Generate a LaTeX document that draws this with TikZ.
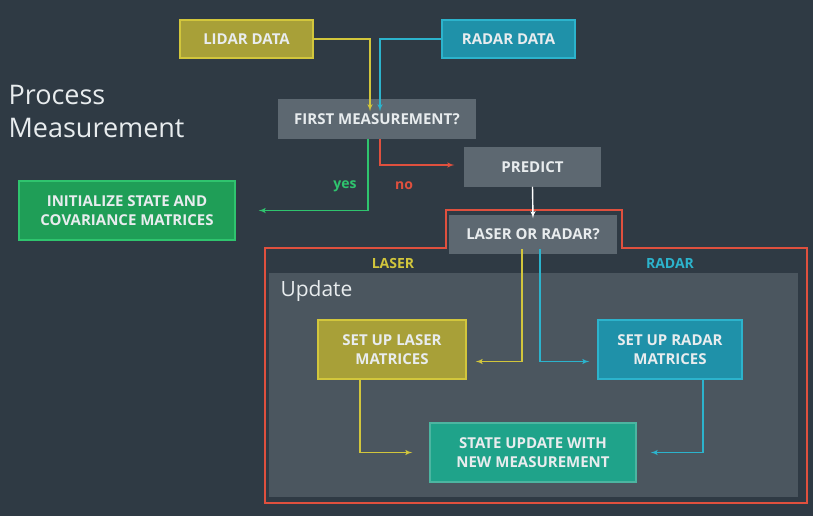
\documentclass[tikz,border=0pt]{standalone}
\usepackage{fontspec}
\setmainfont{Open Sans}
\usetikzlibrary{arrows}
\definecolor{bg}{HTML}{2F3A44}
\definecolor{panel}{HTML}{4B565F}
\definecolor{grey}{HTML}{5D6871}
\definecolor{ylw}{HTML}{A8A038}
\definecolor{ylwline}{HTML}{D2C63C}
\definecolor{teal}{HTML}{1F91A9}
\definecolor{tealline}{HTML}{2CB3CC}
\definecolor{grn}{HTML}{1F9E57}
\definecolor{grnline}{HTML}{2FC46E}
\definecolor{sea}{HTML}{1FA38A}
\definecolor{redline}{HTML}{E0503E}
\definecolor{txt}{HTML}{E8ECEE}
\tikzset{
  box/.style={draw, line width=1.5pt, text=txt, font=\fontsize{15}{19}\selectfont\bfseries,
    align=center, inner sep=0pt},
  con/.style={line width=1.4pt, -latex'},
}
\begin{document}
\begin{tikzpicture}[x=1pt,y=-1pt]
  \fill[bg] (0,0) rectangle (813,516);
  \useasboundingbox (0,0) rectangle (813,516);
  % red frame and update panel
  \draw[redline, line width=2pt] (446,210) -- (622,210) -- (622,248) -- (807,248)
    -- (807,503) -- (265,503) -- (265,248) -- (446,248) -- cycle;
  \fill[panel] (269,273) rectangle (798,497);
  \node[anchor=north west, text=txt, font=\fontsize{21}{24}\selectfont] (upd) at (277,277) {Update};
  \node[anchor=north west, text=txt, font=\fontsize{27}{33}\selectfont, align=left] (pm) at (5,82)
    {Process\\Measurement};
  % boxes
  \node[box, fill=ylw, draw=ylwline, minimum width=133, minimum height=38] (lidar) at (246.5,39) {LIDAR DATA};
  \node[box, fill=teal, draw=tealline, minimum width=133, minimum height=38] (radar) at (508.5,39) {RADAR DATA};
  \node[box, fill=grey, draw=grey, minimum width=196, minimum height=38] (first) at (377,119) {FIRST MEASUREMENT?};
  \node[box, fill=grey, draw=grey, minimum width=135, minimum height=38] (pred) at (532.5,167) {PREDICT};
  \node[box, fill=grn, draw=grnline, minimum width=216, minimum height=59] (init) at (127,210.5)
    {INITIALIZE STATE AND\\COVARIANCE MATRICES};
  \node[box, fill=grey, draw=grey, minimum width=166, minimum height=37] (lor) at (533,234.5) {LASER OR RADAR?};
  \node[box, fill=ylw, draw=ylwline, minimum width=148, minimum height=59] (slaser) at (392,349.5)
    {SET UP LASER\\MATRICES};
  \node[box, fill=teal, draw=tealline, minimum width=144, minimum height=59] (sradar) at (670,349.5)
    {SET UP RADAR\\MATRICES};
  \node[box, fill=sea, draw=sea!80!white, minimum width=206, minimum height=59] (state) at (533,452.5)
    {STATE UPDATE WITH\\NEW MEASUREMENT};
  % labels
  \node[text=ylwline, font=\fontsize{14}{16}\selectfont\bfseries] (llaser) at (393,263) {LASER};
  \node[text=tealline, font=\fontsize{14}{16}\selectfont\bfseries] (lradar) at (670,263) {RADAR};
  \node[text=grnline, font=\fontsize{14}{16}\selectfont\bfseries] (yes) at (345,186) {yes};
  \node[text=redline, font=\fontsize{14}{16}\selectfont\bfseries] (no) at (404,186) {no};
  % connectors
  \draw[con, ylwline] (lidar.east) -| ([xshift=-7pt,yshift=-12pt]first.north);
  \draw[con, tealline] (radar.west) -| ([xshift=3pt,yshift=-12pt]first.north);
  \draw[con, grnline] ([xshift=-9pt]first.south) |- ([xshift=23pt]init.east);
  \draw[con, redline] ([xshift=3pt]first.south) |- ([xshift=-10pt,yshift=2pt]pred.west);
  \draw[con, white] (pred.south) -- ([yshift=-3pt]lor.north);
  \draw[con, ylwline] ([xshift=-11pt,yshift=5pt]lor.south) |- ([xshift=9pt,yshift=-12pt]slaser.east);
  \draw[con, tealline] ([xshift=7pt,yshift=5pt]lor.south) |- ([xshift=-8pt,yshift=-12pt]sradar.west);
  \draw[con, ylwline] ([xshift=-32pt]slaser.south) |- ([xshift=-17pt]state.west);
  \draw[con, tealline] ([xshift=33pt]sradar.south) |- ([xshift=14pt]state.east);
\end{tikzpicture}
\end{document}
